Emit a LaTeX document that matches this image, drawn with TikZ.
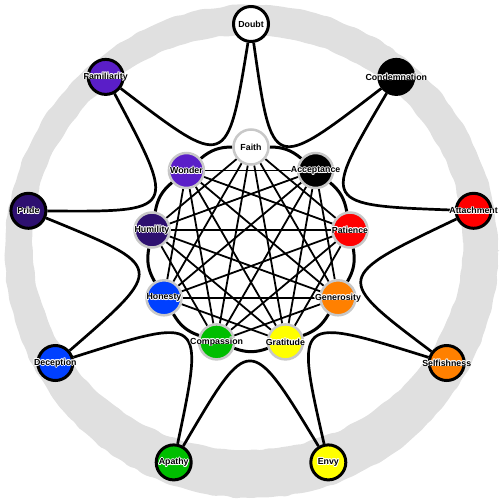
\documentclass[tikz,border=0pt]{standalone}
\usepackage{fontspec}
\setmainfont{Liberation Sans}
\usetikzlibrary{backgrounds,decorations.pathmorphing}
\definecolor{ringgray}{RGB}{224,224,224}
\definecolor{cred}{RGB}{255,0,0}
\definecolor{corange}{RGB}{255,128,0}
\definecolor{cyellow}{RGB}{255,255,0}
\definecolor{cgreen}{RGB}{0,190,0}
\definecolor{cblue}{RGB}{0,64,255}
\definecolor{cindigo}{RGB}{46,16,112}
\definecolor{cviolet}{RGB}{90,30,200}
\definecolor{innerrim}{RGB}{200,200,200}
\newcommand\hcp[3]{\rlap{\kern#1\raisebox{#2}{\textcolor{white}{#3}}}}
\newcommand\lbl[1]{\makebox[0pt]{\bfseries\fontsize{8.8}{10}\selectfont
\hcp{0.8pt}{0pt}{#1}\hcp{-0.8pt}{0pt}{#1}\hcp{0pt}{0.8pt}{#1}\hcp{0pt}{-0.8pt}{#1}%
\hcp{0.6pt}{0.6pt}{#1}\hcp{-0.6pt}{0.6pt}{#1}\hcp{0.6pt}{-0.6pt}{#1}\hcp{-0.6pt}{-0.6pt}{#1}%
#1}}
\tikzset{
  outern/.style={circle, draw=black, line width=3pt, minimum size=35pt, inner sep=0pt, fill=#1},
  innern/.style={circle, draw=innerrim, line width=2.5pt, minimum size=35pt, inner sep=0pt, fill=#1},
  starcurve/.style={line width=2.7pt},
  chord/.style={line width=1.8pt},
  ringarc/.style={line width=3pt}
}
\begin{document}
\begin{tikzpicture}[x=1pt,y=-1pt]
\useasboundingbox (0,0) rectangle (503,501);
% outer nodes
\node[outern=white]   (Doubt)        at (251,24)    {\lbl{Doubt}};
\node[outern=black]   (Condemnation) at (396.3,76.9) {\lbl{Condemnation}};
\node[outern=cred]    (Attachment)   at (473.6,210.8) {\lbl{Attachment}};
\node[outern=corange] (Selfishness)  at (446.7,363)  {\lbl{Selfishness}};
\node[outern=cyellow] (Envy)         at (328.3,462.4) {\lbl{Envy}};
\node[outern=cgreen]  (Apathy)       at (173.7,462.4) {\lbl{Apathy}};
\node[outern=cblue]   (Deception)    at (55.3,363)   {\lbl{Deception}};
\node[outern=cindigo] (Pride)        at (28.4,210.8) {\lbl{Pride}};
\node[outern=cviolet] (Familiarity)  at (105.7,76.9) {\lbl{Familiarity}};
% inner nodes
\node[innern=white]   (Faith)      at (251,147)     {\lbl{Faith}};
\node[innern=black]   (Acceptance) at (315.6,170.5) {\lbl{Acceptance}};
\node[innern=cred]    (Patience)   at (350,230)     {\lbl{Patience}};
\node[innern=corange] (Generosity) at (338,297.8)   {\lbl{Generosity}};
\node[innern=cyellow] (Gratitude)  at (285.4,341.9) {\lbl{Gratitude}};
\node[innern=cgreen]  (Compassion) at (216.6,341.9) {\lbl{Compassion}};
\node[innern=cblue]   (Honesty)    at (164,297.8)   {\lbl{Honesty}};
\node[innern=cindigo] (Humility)   at (152,230)     {\lbl{Humility}};
\node[innern=cviolet] (Wonder)     at (186.4,170.5) {\lbl{Wonder}};
% control points of the star curves
\coordinate (k1) at (272.1,172.5);
\coordinate (k2) at (320.4,205.3);
\coordinate (k3) at (333.3,277.7);
\coordinate (k4) at (294.8,315.7);
\coordinate (k5) at (249.7,332.5);
\coordinate (k6) at (204.5,315.7);
\coordinate (k7) at (166,267);
\coordinate (k8) at (177.6,212);
\coordinate (k9) at (227.2,169.9);
\begin{scope}[on background layer]
  \pgfmathsetseed{7}
  \fill[ringgray, even odd rule, decorate,
        decoration={random steps, segment length=7pt, amplitude=1pt}, rounded corners=2pt]
    (251.5,251.5) circle (246.5pt) (247.5,242.5) ellipse (215.5pt and 207.5pt);
  \draw[starcurve] (Doubt) .. controls (k1) and (k1) .. (Condemnation);
  \draw[starcurve] (Condemnation) .. controls (k2) and (k2) .. (Attachment);
  \draw[starcurve] (Attachment) .. controls (k3) and (k3) .. (Selfishness);
  \draw[starcurve] (Selfishness) .. controls (k4) and (k4) .. (Envy);
  \draw[starcurve] (Envy) .. controls (k5) and (k5) .. (Apathy);
  \draw[starcurve] (Apathy) .. controls (k6) and (k6) .. (Deception);
  \draw[starcurve] (Deception) .. controls (k7) and (k7) .. (Pride);
  \draw[starcurve] (Pride) .. controls (k8) and (k8) .. (Familiarity);
  \draw[starcurve] (Familiarity) .. controls (k9) and (k9) .. (Doubt);
  \foreach \a/\b in {Faith/Acceptance, Acceptance/Patience, Patience/Generosity,
      Generosity/Gratitude, Gratitude/Compassion, Compassion/Honesty,
      Honesty/Humility, Humility/Wonder, Wonder/Faith}
    \draw[ringarc] (\a) to[bend left=20] (\b);
  \foreach \a [count=\i] in {Faith,Acceptance,Patience,Generosity,Gratitude,Compassion,Honesty,Humility,Wonder}{
    \foreach \b [count=\j] in {Faith,Acceptance,Patience,Generosity,Gratitude,Compassion,Honesty,Humility,Wonder}{
      \pgfmathtruncatemacro\dd{\j-\i}
      \ifnum\dd>1 \ifnum\dd<8 \draw[chord] (\a) -- (\b); \fi\fi
    }}
\end{scope}
\end{tikzpicture}
\end{document}
